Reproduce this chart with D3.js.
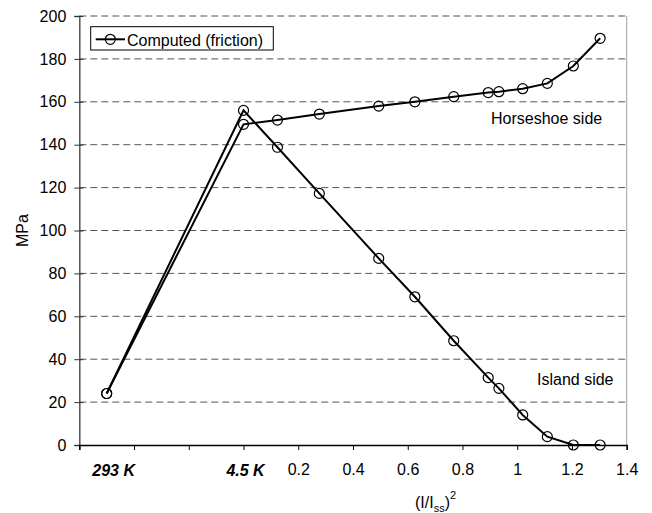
<!DOCTYPE html>
<html>
<head>
<meta charset="utf-8">
<script src="https://cdn.jsdelivr.net/npm/d3@7"></script>
<style>
  body { margin: 0; background: #fff; }
  text { font-family: Arial, 'Liberation Sans', sans-serif; }
</style>
</head>
<body>
<svg id="chart" width="652" height="513"></svg>
<script>
// (I/Iss)^2 positions; -0.5 stands for 293 K, 0 for 4.5 K
var currentSq = [-0.5, 0, 0.124, 0.277, 0.494, 0.626, 0.768, 0.894, 0.933, 1.02, 1.11, 1.205, 1.303];
var horseshoe = [24, 149.5, 151.5, 154.3, 158, 160, 162.4, 164.3, 164.7, 166.1, 168.6, 176.7, 189.6];
var island    = [24, 156, 138.8, 117.3, 87.0, 69.1, 48.6, 31.4, 26.4, 14.0, 3.9, 0, 0];

var xTicks = [-0.6, -0.4, -0.2, 0, 0.2, 0.4, 0.6, 0.8, 1, 1.2, 1.4];
var xNumLabels = [0.2, 0.4, 0.6, 0.8, 1, 1.2, 1.4];
var tempLabels = [{v: -0.5, label: '293 K', dx: 7}, {v: 0, label: '4.5 K', dx: 2}];
var yTicks = [0, 20, 40, 60, 80, 100, 120, 140, 160, 180, 200];

var svg = d3.select('#chart');

var x = d3.scaleLinear().domain([-0.6, 1.4]).range([79.3, 626.7]);
var y = d3.scaleLinear().domain([0, 200]).range([445, 16]);

// gridlines
svg.append('g')
  .selectAll('line')
  .data(yTicks.filter(t => t > 0))
  .join('line')
  .attr('x1', x(-0.6)).attr('x2', x(1.4))
  .attr('y1', d => y(d)).attr('y2', d => y(d))
  .attr('stroke', '#555')
  .attr('stroke-width', 1)
  .attr('stroke-dasharray', '7,4');

// right border of plot area
svg.append('line')
  .attr('x1', x(1.4)).attr('x2', x(1.4))
  .attr('y1', y(200)).attr('y2', y(0))
  .attr('stroke', '#a0a0a0');

// y axis
var yAxis = svg.append('g')
  .attr('transform', 'translate(' + x(-0.6) + ',0)')
  .call(d3.axisLeft(y).tickValues(yTicks).tickSize(5).tickPadding(8));
yAxis.select('.domain').attr('stroke', '#555').attr('stroke-width', 1.5);
yAxis.selectAll('.tick line').attr('stroke', '#333').attr('x2', 4).attr('x1', -5);
yAxis.selectAll('.tick text')
  .attr('font-size', 16)
  .attr('fill', '#000')
  .style('font-family', "Arial, 'Liberation Sans', sans-serif");

// x axis
var xAxis = svg.append('g')
  .attr('transform', 'translate(0,' + y(0) + ')')
  .call(d3.axisBottom(x).tickValues(xTicks).tickSize(5).tickPadding(14)
    .tickFormat(d => xNumLabels.some(v => Math.abs(v - d) < 1e-9) ? d3.format('~g')(d) : ''));
xAxis.select('.domain').attr('stroke', '#000').attr('stroke-width', 1.5);
xAxis.selectAll('.tick line').attr('stroke', '#000');
xAxis.selectAll('.tick text')
  .attr('font-size', 16)
  .attr('fill', '#000')
  .style('font-family', "Arial, 'Liberation Sans', sans-serif");

svg.append('g')
  .selectAll('text')
  .data(tempLabels)
  .join('text')
  .attr('x', d => x(d.v) + d.dx)
  .attr('y', y(0) + 31)
  .attr('text-anchor', 'middle')
  .attr('font-size', 16)
  .attr('font-weight', 'bold')
  .attr('font-style', 'italic')
  .text(d => d.label);

// series
var line = d3.line()
  .x((d, i) => x(currentSq[i]))
  .y(d => y(d));

[horseshoe, island].forEach(series => {
  svg.append('path')
    .datum(series)
    .attr('d', line)
    .attr('fill', 'none')
    .attr('stroke', '#000')
    .attr('stroke-width', 2);

  svg.append('g')
    .selectAll('circle')
    .data(series)
    .join('circle')
    .attr('cx', (d, i) => x(currentSq[i]))
    .attr('cy', d => y(d))
    .attr('r', 5)
    .attr('fill', 'none')
    .attr('stroke', '#000')
    .attr('stroke-width', 1.2);
});

// annotations
svg.append('text')
  .attr('x', 491).attr('y', 124)
  .attr('font-size', 16)
  .text('Horseshoe side');

svg.append('text')
  .attr('x', 537).attr('y', 385)
  .attr('font-size', 16)
  .text('Island side');

// axis titles
svg.append('text')
  .attr('transform', 'translate(28,230.5) rotate(-90)')
  .attr('text-anchor', 'middle')
  .attr('font-size', 16)
  .text('MPa');

var xt = svg.append('text')
  .attr('x', 415).attr('y', 508)
  .attr('font-size', 16);
xt.append('tspan').text('(I/I');
xt.append('tspan').attr('font-size', 11).attr('dy', 4).text('ss');
xt.append('tspan').attr('dy', -4).text(')');
xt.append('tspan').attr('font-size', 11).attr('dy', -9).text('2');

// legend
var legend = svg.append('g');
legend.append('rect')
  .attr('x', 90.7).attr('y', 26.7)
  .attr('width', 182.6).attr('height', 23.3)
  .attr('fill', '#fff')
  .attr('stroke', '#000');
legend.append('line')
  .attr('x1', 95.7).attr('x2', 125)
  .attr('y1', 39.3).attr('y2', 39.3)
  .attr('stroke', '#000').attr('stroke-width', 2);
legend.append('circle')
  .attr('cx', 110.3).attr('cy', 39.3).attr('r', 5)
  .attr('fill', 'none').attr('stroke', '#000').attr('stroke-width', 1.2);
legend.append('text')
  .attr('x', 127).attr('y', 45.5)
  .attr('font-size', 16)
  .text('Computed (friction)');
</script>
</body>
</html>
